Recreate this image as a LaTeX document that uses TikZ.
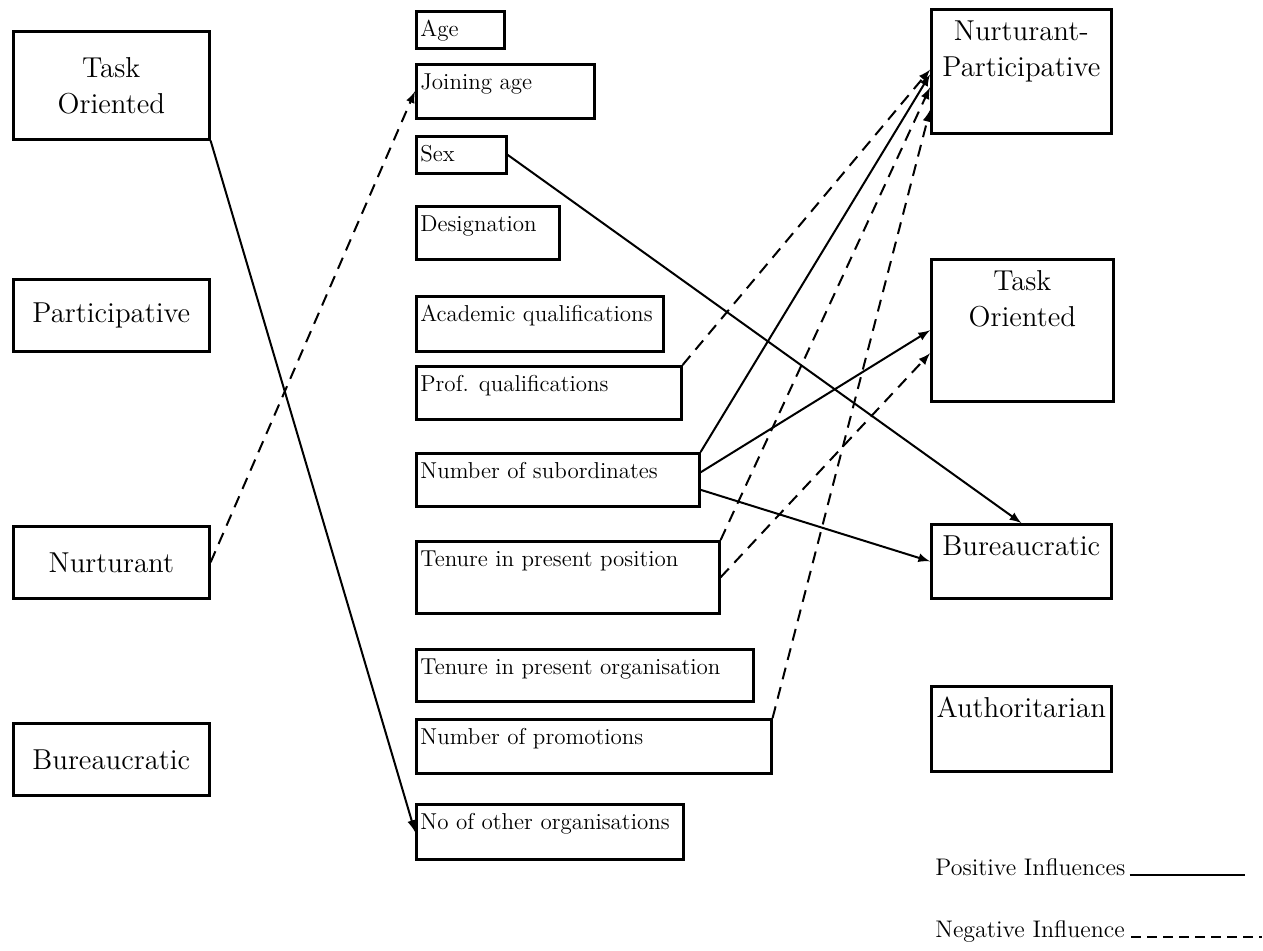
\documentclass[tikz,border=0pt]{standalone}
\usepackage{xcolor}
\usepackage{amsmath, amssymb}
\usepackage{tikz}

\tikzset{
  leader/.style={draw, line width=1.3pt, anchor=north west, minimum width=98pt, align=center, font=\Large},
  factor/.style={draw, line width=1.3pt, anchor=north west, inner sep=0pt},
  ftext/.style={label={[anchor=north west, inner xsep=2.5pt, inner ysep=5pt, font=\fontsize{11.5}{13}\selectfont]north west:#1}},
  outcome/.style={draw, line width=1.3pt, anchor=north west, inner sep=0pt, minimum width=90pt},
  otext/.style={label={[anchor=north, align=center, inner sep=6pt, font=\Large]north:#1}},
  posinf/.style={-latex, line width=1pt},
  neginf/.style={-latex, line width=1pt, dash pattern=on 6pt off 4pt},
}

\begin{document}
\begin{tikzpicture}[x=0.5pt,y=-0.5pt]
\useasboundingbox (0,0) rectangle (1263,950);
%1. 左边的领导风格
\node[leader, minimum height=54pt] (task1) at (12,30) {Task\\Oriented};
\node[leader, minimum height=36pt] (part1) at (12,278) {Participative};
\node[leader, minimum height=36pt] (nurt1) at (12,525) {Nurturant};
\node[leader, minimum height=36pt] (bur1) at (12,722) {Bureaucratic};

%2. 中间的个人因素
\foreach \name/\y/\w/\h/\txt in
	{age/10/44/18.5/Age,
	 join/63/89/27/Joining age,
	 sex/135/45/18.5/Sex,
	 desig/205/71.5/26.5/Designation,
	 acad/295/123.5/27.5/Academic qualifications,
	 prof/365/132.5/26.5/Prof. qualifications,
	 subord/452/141.5/26.5/Number of subordinates,
	 tenpos/540/151.5/36/Tenure in present position,
	 tenorg/648/168.5/26/Tenure in present organisation,
	 promo/718/177.5/27/Number of promotions,
	 other/803/133.5/27.5/No of other organisations}
	{\node[factor, ftext=\txt, minimum width=\w pt, minimum height=\h pt] (\name) at (415,\y) {};
	}

%3. 右边的领导风格
\node[outcome, otext={Nurturant-\\Participative}, minimum height=62pt] (np) at (930,8) {};
\node[outcome, otext={Task\\Oriented}, minimum width=91pt, minimum height=71pt] (task2) at (930,258) {};
\node[outcome, otext=Bureaucratic, minimum height=37pt] (bur2) at (930,523) {};
\node[outcome, otext=Authoritarian, minimum height=42.5pt] (auth) at (930,685) {};

%4. 影响关系
\draw[posinf] (task1.south east) -- (other.west);
\draw[neginf] (nurt1.east) -- (join.west);
\draw[posinf] (sex.east) -- (bur2.north);
\draw[neginf] (prof.north east) -- (np.179);
\draw[posinf] (subord.north east) -- (np.182);
\draw[posinf] (subord.3) -- (task2.west);
\draw[posinf] (subord.-4) -- (bur2.west);
\draw[neginf] (tenpos.north east) -- (np.190);
\draw[neginf] (tenpos.east) -- (task2.194);
\draw[neginf] (promo.north east) -- (np.203);

%5. 图例
\node[anchor=base west, font=\large, inner sep=0pt] (poslab) at (935,875) {Positive Influences};
\node[anchor=base west, font=\large, inner sep=0pt] (neglab) at (935,937) {Negative Influence};
\coordinate (posend) at (1245,878);
\coordinate (negend) at (1262,940);
\draw[line width=1pt] ([xshift=2pt]poslab.base east) -- (poslab.base east -| posend);
\draw[line width=1pt, dash pattern=on 5pt off 3pt] ([xshift=3pt]neglab.base east) -- (neglab.base east -| negend);
\end{tikzpicture}
\end{document}
